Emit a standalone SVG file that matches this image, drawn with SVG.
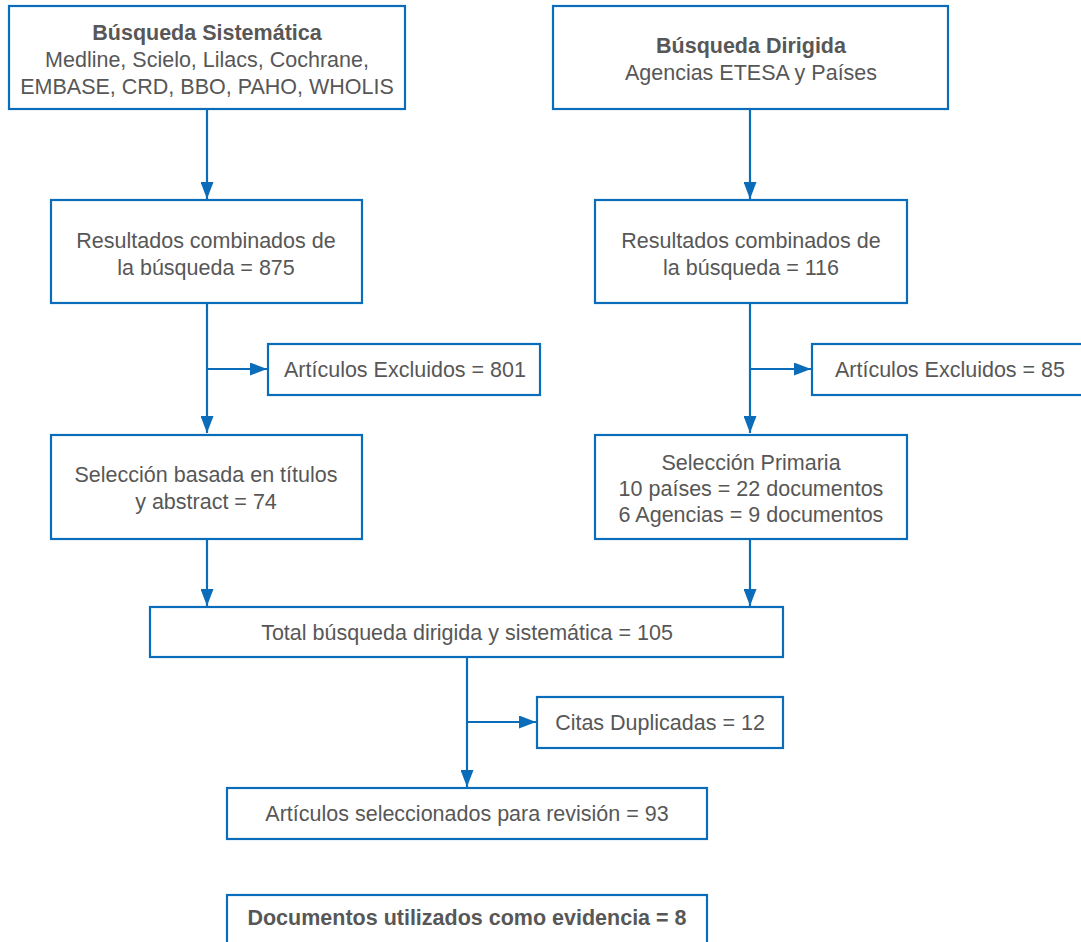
<svg xmlns="http://www.w3.org/2000/svg" width="1081" height="942" viewBox="0 0 1081 942">
<defs>
<style>
.box{fill:#fff;stroke:#0b6dba;stroke-width:2.2}
.t{font-family:"Liberation Sans",Arial,sans-serif;font-size:21.5px;fill:#575757;text-anchor:middle}
.b{font-weight:bold}
.c{stroke:#0b6dba;stroke-width:2.2;fill:none}
</style>
<marker id="ah" viewBox="0 0 10 10" refX="10" refY="5" markerWidth="17" markerHeight="13" markerUnits="userSpaceOnUse" orient="auto" preserveAspectRatio="none">
<path d="M0,0 L10,5 L0,10 z" fill="#0b6dba"/>
</marker>
</defs>
<rect width="1081" height="942" fill="#fff"/>
<g id="connectors">
<line class="c" x1="207" y1="109" x2="207" y2="199" marker-end="url(#ah)"/>
<line class="c" x1="750" y1="109" x2="750" y2="199" marker-end="url(#ah)"/>
<line class="c" x1="207" y1="303" x2="207" y2="433" marker-end="url(#ah)"/>
<line class="c" x1="207" y1="369" x2="267" y2="369" marker-end="url(#ah)"/>
<line class="c" x1="750" y1="303" x2="750" y2="433" marker-end="url(#ah)"/>
<line class="c" x1="750" y1="369" x2="811" y2="369" marker-end="url(#ah)"/>
<line class="c" x1="207" y1="539" x2="207" y2="606" marker-end="url(#ah)"/>
<line class="c" x1="750" y1="539" x2="750" y2="606" marker-end="url(#ah)"/>
<line class="c" x1="467" y1="657" x2="467" y2="787" marker-end="url(#ah)"/>
<line class="c" x1="467" y1="722" x2="536" y2="722" marker-end="url(#ah)"/>
</g>
<g id="n1">
<rect class="box" x="9" y="6" width="396" height="103"/>
<text class="t b" x="207" y="40">Búsqueda Sistemática</text>
<text class="t" x="207" y="67">Medline, Scielo, Lilacs, Cochrane,</text>
<text class="t" x="207" y="94">EMBASE, CRD, BBO, PAHO, WHOLIS</text>
</g>
<g id="n2">
<rect class="box" x="553" y="6" width="395" height="103"/>
<text class="t b" x="751" y="53">Búsqueda Dirigida</text>
<text class="t" x="751" y="80">Agencias ETESA y Países</text>
</g>
<g id="n3">
<rect class="box" x="51" y="200" width="311" height="103"/>
<text class="t" x="206" y="248">Resultados combinados de</text>
<text class="t" x="206" y="275">la búsqueda = 875</text>
</g>
<g id="n4">
<rect class="box" x="595" y="200" width="312" height="103"/>
<text class="t" x="751" y="248">Resultados combinados de</text>
<text class="t" x="751" y="275">la búsqueda = 116</text>
</g>
<g id="n5">
<rect class="box" x="268" y="344" width="272" height="51"/>
<text class="t" x="405" y="377">Artículos Excluidos = 801</text>
</g>
<g id="n6">
<rect class="box" x="812" y="344" width="272" height="51"/>
<text class="t" x="950" y="377">Artículos Excluidos = 85</text>
</g>
<g id="n7">
<rect class="box" x="51" y="435" width="311" height="104"/>
<text class="t" x="206" y="482">Selección basada en títulos</text>
<text class="t" x="206" y="509">y abstract = 74</text>
</g>
<g id="n8">
<rect class="box" x="595" y="435" width="312" height="104"/>
<text class="t" x="751" y="470">Selección Primaria</text>
<text class="t" x="751" y="496">10 países = 22 documentos</text>
<text class="t" x="751" y="522">6 Agencias = 9 documentos</text>
</g>
<g id="n9">
<rect class="box" x="150" y="607" width="633" height="50"/>
<text class="t" x="467" y="640">Total búsqueda dirigida y sistemática = 105</text>
</g>
<g id="n10">
<rect class="box" x="537" y="697" width="246" height="51"/>
<text class="t" x="660" y="730">Citas Duplicadas = 12</text>
</g>
<g id="n11">
<rect class="box" x="227" y="788" width="480" height="51"/>
<text class="t" x="467" y="821">Artículos seleccionados para revisión = 93</text>
</g>
<g id="n12">
<rect class="box" x="227" y="895" width="480" height="60"/>
<text class="t b" x="467" y="925">Documentos utilizados como evidencia = 8</text>
</g>
</svg>
